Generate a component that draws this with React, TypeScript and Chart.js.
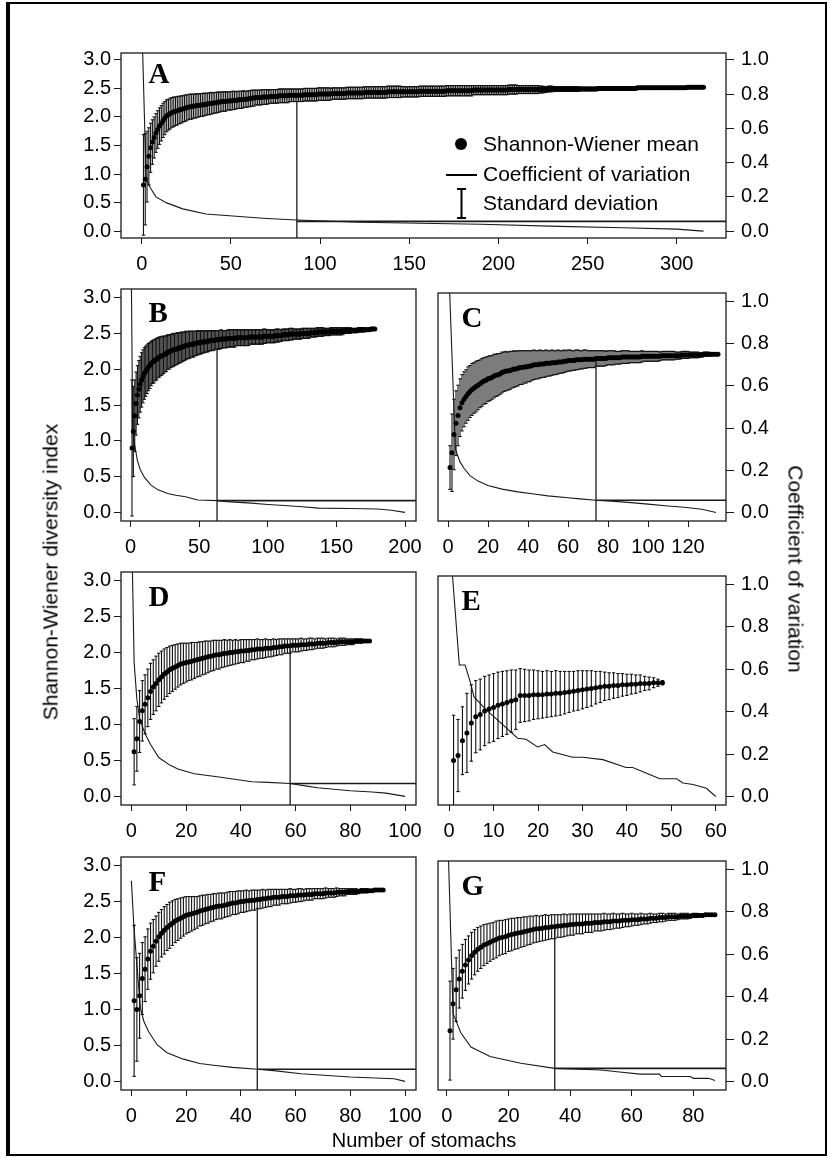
import React, { useEffect, useRef } from "react";
import { Chart, registerables } from "chart.js";
Chart.register(...registerables);

// ---------------- DATA (index i -> number of stomachs n = i + 1) ----------------
const aMean = [
  0.81,0.91,1.13,1.31,1.46,1.56,1.64,1.72,1.78,1.84,
  1.89,1.94,1.98,2.02,2.04,2.06,2.08,2.09,2.10,2.11,
  2.12,2.13,2.14,2.15,2.16,2.17,2.18,2.18,2.19,2.19,
  2.20,2.20,2.21,2.21,2.22,2.22,2.23,2.23,2.24,2.24,
  2.25,2.25,2.26,2.26,2.27,2.27,2.27,2.28,2.28,2.28,
  2.29,2.29,2.29,2.30,2.30,2.30,2.31,2.31,2.31,2.32,
  2.32,2.33,2.33,2.34,2.34,2.34,2.34,2.35,2.35,2.35,
  2.35,2.36,2.36,2.36,2.36,2.36,2.37,2.37,2.37,2.37,
  2.37,2.37,2.38,2.38,2.38,2.38,2.38,2.38,2.38,2.38,
  2.39,2.39,2.39,2.39,2.39,2.39,2.39,2.39,2.40,2.40,
  2.40,2.40,2.40,2.40,2.40,2.40,2.41,2.41,2.41,2.41,
  2.41,2.41,2.41,2.41,2.42,2.42,2.42,2.42,2.42,2.42,
  2.42,2.42,2.42,2.42,2.43,2.43,2.43,2.43,2.43,2.43,
  2.43,2.43,2.43,2.43,2.43,2.43,2.43,2.44,2.44,2.44,
  2.44,2.44,2.44,2.44,2.44,2.44,2.44,2.44,2.44,2.44,
  2.44,2.44,2.44,2.44,2.44,2.45,2.45,2.45,2.45,2.45,
  2.45,2.45,2.45,2.45,2.45,2.45,2.45,2.45,2.45,2.45,
  2.46,2.46,2.46,2.46,2.46,2.46,2.46,2.46,2.46,2.46,
  2.46,2.46,2.46,2.46,2.46,2.47,2.47,2.47,2.47,2.47,
  2.47,2.47,2.47,2.47,2.47,2.47,2.47,2.47,2.47,2.47,
  2.47,2.47,2.47,2.47,2.47,2.48,2.48,2.48,2.48,2.48,
  2.48,2.48,2.48,2.48,2.48,2.48,2.48,2.48,2.48,2.48,
  2.48,2.48,2.48,2.48,2.48,2.48,2.48,2.49,2.49,2.49,
  2.49,2.49,2.49,2.49,2.49,2.49,2.49,2.49,2.49,2.49,
  2.49,2.49,2.49,2.49,2.49,2.49,2.49,2.49,2.49,2.49,
  2.49,2.49,2.49,2.49,2.49,2.50,2.50,2.50,2.50,2.50,
  2.50,2.50,2.50,2.50,2.50,2.50,2.50,2.50,2.50,2.50,
  2.50,2.50,2.50,2.50,2.50,2.50,2.50,2.51,2.51,2.51,
  2.51,2.51,2.51,2.51,2.51,2.51,2.51,2.51,2.51,2.51,
  2.51,2.51,2.51,2.51,2.51,2.51,2.51,2.51,2.51,2.51,
  2.51,2.51,2.51,2.51,2.51,2.52,2.52,2.52,2.52,2.52,
  2.52,2.52,2.52,2.52,2.52,
];
const aSd = [
  0.88,0.80,0.62,0.50,0.43,0.39,0.36,0.34,0.33,0.32,
  0.31,0.30,0.29,0.28,0.27,0.27,0.26,0.26,0.25,0.25,
  0.24,0.24,0.23,0.23,0.23,0.22,0.22,0.22,0.21,0.21,
  0.21,0.20,0.20,0.20,0.20,0.19,0.19,0.19,0.19,0.18,
  0.18,0.18,0.18,0.17,0.17,0.17,0.17,0.16,0.16,0.16,
  0.16,0.16,0.15,0.15,0.15,0.15,0.15,0.14,0.14,0.14,
  0.14,0.14,0.14,0.13,0.13,0.13,0.13,0.13,0.13,0.13,
  0.12,0.12,0.12,0.12,0.12,0.12,0.12,0.12,0.12,0.12,
  0.12,0.12,0.11,0.11,0.11,0.11,0.11,0.11,0.11,0.11,
  0.11,0.11,0.11,0.11,0.11,0.11,0.11,0.11,0.11,0.11,
  0.11,0.11,0.11,0.11,0.11,0.10,0.10,0.10,0.10,0.10,
  0.10,0.10,0.10,0.10,0.10,0.10,0.10,0.10,0.10,0.10,
  0.10,0.10,0.10,0.10,0.10,0.10,0.10,0.10,0.10,0.10,
  0.10,0.10,0.10,0.10,0.10,0.10,0.10,0.10,0.10,0.10,
  0.10,0.10,0.10,0.10,0.10,0.09,0.09,0.09,0.09,0.09,
  0.09,0.09,0.09,0.09,0.09,0.09,0.09,0.09,0.09,0.09,
  0.09,0.09,0.09,0.09,0.09,0.09,0.09,0.09,0.09,0.09,
  0.09,0.09,0.09,0.09,0.09,0.09,0.09,0.09,0.09,0.09,
  0.09,0.09,0.09,0.09,0.09,0.08,0.08,0.08,0.08,0.08,
  0.08,0.08,0.08,0.08,0.08,0.08,0.08,0.08,0.08,0.08,
  0.08,0.08,0.08,0.08,0.08,0.08,0.08,0.08,0.08,0.08,
  0.07,0.07,0.07,0.07,0.07,0.07,0.07,0.07,0.07,0.07,
  0.07,0.07,0.06,0.06,0.06,0.05,0.05,0.05,0.05,0.05,
  0.04,0.04,0.04,0.04,0.04,0.04,0.04,0.04,0.04,0.04,
  0.04,0.04,0.04,0.04,0.04,0.03,0.03,0.03,0.03,0.03,
  0.03,0.03,0.03,0.03,0.03,0.03,0.03,0.03,0.03,0.03,
  0.03,0.03,0.03,0.03,0.03,0.02,0.02,0.02,0.02,0.02,
  0.02,0.02,0.02,0.02,0.02,0.02,0.02,0.02,0.02,0.02,
  0.02,0.02,0.02,0.02,0.02,0.02,0.02,0.02,0.02,0.02,
  0.02,0.02,0.02,0.02,0.02,0.01,0.01,0.01,0.01,0.01,
  0.01,0.01,0.01,0.01,0.01,0.01,0.01,0.01,0.01,0.01,
  0.00,0.00,0.00,0.00,0.00,
];
const aCvN = [0, 2.5, 5, 8, 14, 23, 36, 51, 70, 87, 122, 190, 234, 270, 300, 315];
const aCvV = [1.25, 0.30, 0.25, 0.20, 0.165, 0.13, 0.10, 0.088, 0.074, 0.065, 0.052, 0.04, 0.028, 0.02, 0.012, 0];

const bMean = [
  0.90,1.13,1.35,1.52,1.64,1.72,1.79,1.85,1.90,1.94,
  1.97,2.00,2.03,2.05,2.08,2.10,2.11,2.13,2.14,2.16,
  2.17,2.18,2.19,2.20,2.21,2.22,2.24,2.24,2.25,2.26,
  2.27,2.27,2.28,2.29,2.29,2.30,2.31,2.31,2.32,2.33,
  2.33,2.34,2.34,2.35,2.35,2.35,2.36,2.36,2.37,2.37,
  2.37,2.38,2.38,2.38,2.39,2.39,2.39,2.40,2.40,2.40,
  2.40,2.41,2.41,2.41,2.41,2.42,2.42,2.42,2.42,2.42,
  2.43,2.43,2.43,2.43,2.43,2.43,2.44,2.44,2.44,2.44,
  2.44,2.44,2.44,2.44,2.44,2.44,2.45,2.45,2.45,2.45,
  2.45,2.45,2.45,2.45,2.45,2.45,2.46,2.46,2.46,2.46,
  2.46,2.46,2.46,2.46,2.46,2.47,2.47,2.47,2.47,2.47,
  2.48,2.48,2.48,2.48,2.48,2.49,2.49,2.49,2.49,2.49,
  2.49,2.49,2.49,2.49,2.50,2.50,2.50,2.50,2.50,2.50,
  2.51,2.51,2.51,2.51,2.51,2.52,2.52,2.52,2.52,2.52,
  2.52,2.52,2.52,2.52,2.52,2.53,2.53,2.53,2.53,2.53,
  2.53,2.53,2.53,2.53,2.53,2.54,2.54,2.54,2.54,2.54,
  2.54,2.54,2.54,2.54,2.54,2.55,2.55,2.55,2.55,2.55,
  2.55,2.55,2.55,2.55,2.56,2.56,2.56,2.56,
];
const bSd = [
  0.95,0.63,0.50,0.44,0.41,0.40,0.39,0.38,0.37,0.36,
  0.35,0.34,0.33,0.32,0.31,0.30,0.30,0.29,0.29,0.28,
  0.28,0.27,0.27,0.26,0.25,0.25,0.24,0.24,0.23,0.23,
  0.23,0.22,0.22,0.22,0.21,0.21,0.21,0.20,0.20,0.20,
  0.19,0.19,0.19,0.18,0.18,0.18,0.17,0.17,0.17,0.16,
  0.16,0.16,0.15,0.15,0.15,0.15,0.14,0.14,0.14,0.14,
  0.13,0.13,0.13,0.13,0.13,0.13,0.12,0.12,0.12,0.12,
  0.12,0.12,0.12,0.12,0.12,0.12,0.11,0.11,0.11,0.11,
  0.11,0.11,0.11,0.11,0.11,0.11,0.10,0.10,0.10,0.10,
  0.10,0.10,0.10,0.10,0.10,0.10,0.10,0.10,0.09,0.09,
  0.09,0.09,0.09,0.09,0.09,0.09,0.09,0.09,0.08,0.08,
  0.08,0.08,0.08,0.08,0.08,0.08,0.08,0.08,0.07,0.07,
  0.07,0.07,0.07,0.07,0.07,0.07,0.07,0.07,0.07,0.07,
  0.06,0.06,0.06,0.06,0.06,0.06,0.06,0.06,0.06,0.06,
  0.05,0.05,0.05,0.05,0.05,0.05,0.05,0.05,0.05,0.05,
  0.05,0.05,0.05,0.05,0.04,0.04,0.04,0.04,0.04,0.04,
  0.03,0.03,0.03,0.03,0.03,0.03,0.03,0.03,0.03,0.03,
  0.02,0.02,0.02,0.02,0.02,0.01,0.01,0.01,
];
const bCvN = [0, 1.5, 2.5, 5, 7, 10, 15, 20, 27, 33, 40, 49, 64, 70, 88, 100, 112, 125, 137, 160, 180, 190, 200];
const bCvV = [1.5, 0.40, 0.33, 0.24, 0.20, 0.164, 0.126, 0.105, 0.088, 0.08, 0.073, 0.058, 0.055, 0.05, 0.043, 0.037, 0.032, 0.026, 0.02, 0.018, 0.016, 0.01, 0];

const cMean = [
  0.64,0.85,1.11,1.27,1.38,1.49,1.56,1.61,1.65,1.69,
  1.72,1.75,1.77,1.79,1.81,1.83,1.85,1.87,1.88,1.90,
  1.91,1.92,1.94,1.95,1.96,1.97,1.99,2.00,2.01,2.01,
  2.02,2.03,2.04,2.04,2.05,2.06,2.06,2.07,2.07,2.08,
  2.08,2.09,2.10,2.10,2.10,2.11,2.11,2.11,2.12,2.12,
  2.12,2.13,2.13,2.13,2.14,2.14,2.14,2.15,2.15,2.16,
  2.16,2.16,2.16,2.17,2.17,2.17,2.17,2.18,2.18,2.18,
  2.18,2.18,2.18,2.19,2.19,2.19,2.19,2.19,2.19,2.20,
  2.20,2.20,2.20,2.20,2.20,2.20,2.21,2.21,2.21,2.21,
  2.21,2.21,2.21,2.21,2.21,2.21,2.22,2.22,2.22,2.22,
  2.22,2.22,2.22,2.22,2.22,2.22,2.23,2.23,2.23,2.23,
  2.23,2.23,2.23,2.23,2.23,2.23,2.24,2.24,2.24,2.24,
  2.24,2.24,2.24,2.24,2.24,2.24,2.24,2.25,2.25,2.25,
  2.25,2.25,2.25,2.25,2.25,
];
const cSd = [
  0.31,0.55,0.50,0.46,0.43,0.41,0.40,0.39,0.38,0.38,
  0.37,0.37,0.36,0.36,0.35,0.34,0.34,0.33,0.33,0.32,
  0.32,0.31,0.31,0.30,0.30,0.29,0.29,0.28,0.28,0.27,
  0.27,0.26,0.26,0.25,0.25,0.24,0.24,0.23,0.23,0.22,
  0.22,0.21,0.21,0.20,0.20,0.20,0.19,0.19,0.19,0.18,
  0.18,0.18,0.17,0.17,0.17,0.16,0.16,0.16,0.15,0.15,
  0.15,0.14,0.14,0.14,0.14,0.13,0.13,0.13,0.13,0.12,
  0.12,0.12,0.12,0.11,0.11,0.11,0.11,0.11,0.10,0.10,
  0.10,0.10,0.10,0.09,0.09,0.09,0.09,0.09,0.09,0.09,
  0.08,0.08,0.08,0.08,0.08,0.08,0.08,0.07,0.07,0.07,
  0.07,0.07,0.07,0.07,0.07,0.06,0.06,0.06,0.06,0.06,
  0.06,0.06,0.06,0.05,0.05,0.05,0.05,0.05,0.05,0.05,
  0.04,0.04,0.04,0.04,0.04,0.03,0.03,0.03,0.03,0.03,
  0.02,0.02,0.01,0.01,0.00,
];
const cCvN = [0, 3.7, 6, 8, 11, 15, 20, 27, 35, 43, 50, 60, 66, 74, 85, 93, 100, 110, 118, 127, 134];
const cCvV = [1.26, 0.30, 0.24, 0.21, 0.175, 0.149, 0.128, 0.111, 0.098, 0.088, 0.079, 0.07, 0.065, 0.058, 0.052, 0.046, 0.04, 0.031, 0.025, 0.016, 0];

const dMean = [
  0.62,0.80,1.04,1.19,1.28,1.37,1.46,1.52,1.57,1.62,
  1.66,1.70,1.73,1.76,1.78,1.80,1.82,1.84,1.85,1.86,
  1.87,1.88,1.89,1.90,1.91,1.92,1.93,1.94,1.95,1.96,
  1.97,1.97,1.98,1.99,1.99,2.00,2.00,2.01,2.01,2.02,
  2.02,2.03,2.03,2.04,2.04,2.05,2.05,2.05,2.06,2.06,
  2.06,2.07,2.07,2.08,2.08,2.09,2.09,2.09,2.10,2.10,
  2.10,2.11,2.11,2.11,2.12,2.12,2.12,2.13,2.13,2.13,
  2.13,2.14,2.14,2.14,2.14,2.15,2.15,2.15,2.15,2.15,
  2.15,2.16,2.16,2.16,2.16,2.16,2.16,
];
const dSd = [
  0.46,0.45,0.43,0.42,0.41,0.40,0.39,0.38,0.38,0.37,
  0.36,0.35,0.34,0.33,0.32,0.31,0.30,0.29,0.28,0.27,
  0.26,0.26,0.25,0.24,0.24,0.23,0.23,0.22,0.21,0.21,
  0.20,0.20,0.19,0.19,0.18,0.18,0.17,0.17,0.16,0.16,
  0.16,0.15,0.15,0.14,0.14,0.14,0.13,0.13,0.13,0.12,
  0.12,0.12,0.11,0.11,0.11,0.10,0.10,0.10,0.09,0.09,
  0.09,0.09,0.08,0.08,0.08,0.08,0.07,0.07,0.07,0.07,
  0.06,0.06,0.06,0.06,0.05,0.05,0.05,0.05,0.04,0.04,
  0.04,0.03,0.03,0.03,0.02,0.02,0.01,
];
const dCvN = [0, 1, 2, 3, 5, 7, 10, 14, 17, 23, 32, 44, 50, 58, 63, 68, 80, 88, 93, 100];
const dCvV = [1.3, 0.62, 0.45, 0.36, 0.29, 0.24, 0.18, 0.145, 0.127, 0.105, 0.09, 0.068, 0.065, 0.06, 0.05, 0.04, 0.026, 0.02, 0.015, 0];

const eMean = [
  0.51,0.58,0.79,0.90,1.04,1.13,1.16,1.21,1.24,1.26,
  1.29,1.31,1.33,1.35,1.37,1.43,1.43,1.43,1.44,1.44,
  1.44,1.45,1.45,1.46,1.46,1.47,1.48,1.49,1.50,1.51,
  1.52,1.53,1.54,1.55,1.56,1.56,1.57,1.57,1.58,1.58,
  1.59,1.59,1.60,1.60,1.60,1.61,1.61,1.61,
];
const eSd = [
  0.64,0.51,0.48,0.56,0.54,0.51,0.50,0.49,0.48,0.48,
  0.47,0.46,0.45,0.44,0.42,0.38,0.37,0.36,0.35,0.34,
  0.33,0.33,0.32,0.32,0.31,0.30,0.29,0.28,0.28,0.27,
  0.26,0.25,0.23,0.22,0.20,0.19,0.18,0.17,0.16,0.15,
  0.14,0.13,0.12,0.10,0.09,0.07,0.05,0.03,
];
const eCvN = [0, 2.3, 3.6, 4.9, 5.6, 8.3, 12, 15.4, 17.3, 19.9, 21.5, 23.3, 27.8, 30, 34.6, 39.8, 41.3, 45.1, 47.4, 51.2, 52.6, 54.9, 57.9, 60];
const eCvV = [1.25, 0.62, 0.62, 0.53, 0.47, 0.41, 0.34, 0.275, 0.27, 0.234, 0.245, 0.21, 0.185, 0.185, 0.174, 0.137, 0.137, 0.104, 0.084, 0.084, 0.064, 0.057, 0.039, 0];

const fMean = [
  1.12,1.00,1.19,1.43,1.56,1.70,1.81,1.88,1.95,2.01,
  2.06,2.10,2.14,2.17,2.20,2.23,2.25,2.27,2.29,2.31,
  2.32,2.33,2.34,2.35,2.37,2.38,2.39,2.40,2.41,2.42,
  2.43,2.44,2.44,2.45,2.46,2.47,2.48,2.48,2.49,2.50,
  2.50,2.51,2.51,2.52,2.52,2.53,2.53,2.54,2.54,2.55,
  2.55,2.56,2.56,2.56,2.57,2.57,2.57,2.58,2.58,2.58,
  2.59,2.59,2.59,2.60,2.60,2.60,2.61,2.61,2.61,2.61,
  2.62,2.62,2.62,2.62,2.63,2.63,2.63,2.63,2.64,2.64,
  2.64,2.64,2.64,2.65,2.65,2.65,2.65,2.65,2.66,2.66,
  2.66,2.66,
];
const fSd = [
  1.05,0.72,0.59,0.50,0.45,0.42,0.39,0.37,0.35,0.34,
  0.33,0.33,0.32,0.32,0.31,0.30,0.29,0.28,0.27,0.26,
  0.25,0.24,0.23,0.22,0.21,0.21,0.20,0.20,0.19,0.19,
  0.18,0.18,0.18,0.17,0.17,0.17,0.16,0.16,0.16,0.15,
  0.15,0.15,0.14,0.14,0.14,0.13,0.13,0.13,0.12,0.12,
  0.12,0.11,0.11,0.11,0.10,0.10,0.10,0.10,0.09,0.09,
  0.09,0.09,0.08,0.08,0.08,0.08,0.07,0.07,0.07,0.07,
  0.07,0.06,0.06,0.06,0.06,0.05,0.05,0.05,0.04,0.04,
  0.04,0.04,0.03,0.03,0.03,0.03,0.02,0.02,0.02,0.01,
  0.01,0.00,
];
const fCvN = [0, 0.9, 2.7, 3.3, 4.5, 6.3, 9.4, 13, 19, 25, 30, 37, 46, 52, 62, 80, 96, 100];
const fCvV = [0.93, 0.72, 0.43, 0.34, 0.28, 0.23, 0.17, 0.133, 0.103, 0.083, 0.075, 0.065, 0.056, 0.05, 0.035, 0.02, 0.012, 0];

const gMean = [
  0.72,1.10,1.30,1.45,1.56,1.65,1.72,1.78,1.83,1.87,
  1.90,1.93,1.95,1.97,1.99,2.01,2.03,2.04,2.05,2.07,
  2.08,2.09,2.10,2.11,2.12,2.13,2.14,2.15,2.16,2.16,
  2.17,2.18,2.18,2.19,2.19,2.20,2.20,2.21,2.21,2.22,
  2.22,2.23,2.23,2.23,2.24,2.24,2.24,2.25,2.25,2.25,
  2.26,2.26,2.26,2.27,2.27,2.27,2.28,2.28,2.28,2.29,
  2.29,2.29,2.30,2.30,2.30,2.31,2.31,2.31,2.32,2.32,
  2.32,2.33,2.33,2.33,2.33,2.34,2.34,2.34,2.34,2.35,
  2.35,2.35,2.35,2.36,2.36,2.36,2.36,
];
const gSd = [
  0.70,0.50,0.45,0.41,0.38,0.36,0.34,0.33,0.32,0.31,
  0.30,0.29,0.28,0.27,0.26,0.26,0.25,0.24,0.24,0.23,
  0.23,0.22,0.22,0.21,0.21,0.20,0.20,0.19,0.19,0.18,
  0.18,0.18,0.17,0.17,0.17,0.16,0.16,0.16,0.15,0.15,
  0.15,0.14,0.14,0.14,0.13,0.13,0.13,0.12,0.12,0.12,
  0.12,0.11,0.11,0.11,0.10,0.10,0.10,0.09,0.09,0.09,
  0.08,0.08,0.08,0.07,0.07,0.07,0.06,0.06,0.06,0.06,
  0.05,0.05,0.05,0.05,0.04,0.04,0.04,0.04,0.03,0.03,
  0.03,0.02,0.02,0.02,0.01,0.01,0.00,
];
const gCvN = [0, 2, 4.5, 7.8, 14, 24, 35, 50, 56, 62.7, 69, 69.6, 79, 80, 85, 87];
const gCvV = [1.3, 0.32, 0.23, 0.163, 0.118, 0.086, 0.062, 0.054, 0.045, 0.035, 0.035, 0.024, 0.024, 0.015, 0.015, 0.005];

// tick labels
const xTicksA = [0, 50, 100, 150, 200, 250, 300];
const xTicksB = [0, 50, 100, 150, 200];
const xTicksC = [0, 20, 40, 60, 80, 100, 120];
const xTicksD = [0, 20, 40, 60, 80, 100];
const xTicksE = [0, 10, 20, 30, 40, 50, 60];
const xTicksF = [0, 20, 40, 60, 80, 100];
const xTicksG = [0, 20, 40, 60, 80];
const leftTicks = [0, 0.5, 1, 1.5, 2, 2.5, 3];
const rightTicks = [0, 0.2, 0.4, 0.6, 0.8, 1];

// stopping point (n), CV at that point, and top of the vertical marker
const thrN = { A: 87, B: 63, C: 74, D: 58, F: 46, G: 35 };
const thrCv = { A: 0.057, B: 0.055, C: 0.058, D: 0.06, F: 0.056, G: 0.062 };
const thrTop = { A: 2.27, B: 2.27, C: 2.15, D: 2.05, F: 2.42, G: 2.2 };

// ---------------- LAYOUT ----------------
type Box = { l: number; r: number; t: number; b: number };
type Spec = {
  letter: string;
  mean: number[];
  sd: number[];
  cvN: number[];
  cvV: number[];
  thr?: number;
  thrCv?: number;
  thrTop?: number;
  xMin: number;
  xMax: number;
  xTicks: number[];
  box: Box;
  showLeft: boolean;
  showRight: boolean;
  legend?: boolean;
  letterDx: number;
  letterDy: number;
};

const SANS = '"Liberation Sans", Arial, Helvetica, sans-serif';
const SERIF = '"Liberation Serif", "Times New Roman", Times, serif';
const PAD_L = 60, PAD_R = 70, PAD_T = 10, PAD_B = 40;
const Y_MIN = -0.12, Y_MAX = 3.12, Y1_MIN = -0.04, Y1_MAX = 1.04;

const LC = { l: 121, r: 416 };
const RC = { l: 438, r: 726 };
const R2 = { t: 284, b: 521 };
const R3 = { t: 567, b: 805 };
const R4 = { t: 852, b: 1090 };

const specs: Spec[] = [
  { letter: "A", mean: aMean, sd: aSd, cvN: aCvN, cvV: aCvV, thr: thrN.A, thrCv: thrCv.A, thrTop: thrTop.A,
    xMin: -11.6, xMax: 327.6, xTicks: xTicksA, box: { l: 121, r: 726, t: 44, b: 238 },
    showLeft: true, showRight: true, legend: true, letterDx: 27.5, letterDy: 29.5 },
  { letter: "B", mean: bMean, sd: bSd, cvN: bCvN, cvV: bCvV, thr: thrN.B, thrCv: thrCv.B, thrTop: thrTop.B,
    xMin: -7, xMax: 208, xTicks: xTicksB, box: { ...LC, ...R2 }, showLeft: true, showRight: false, letterDx: 27.5, letterDy: 33 },
  { letter: "C", mean: cMean, sd: cSd, cvN: cCvN, cvV: cCvV, thr: thrN.C, thrCv: thrCv.C, thrTop: thrTop.C,
    xMin: -5, xMax: 139, xTicks: xTicksC, box: { ...RC, ...R2 }, showLeft: false, showRight: true, letterDx: 23.5, letterDy: 34 },
  { letter: "D", mean: dMean, sd: dSd, cvN: dCvN, cvV: dCvV, thr: thrN.D, thrCv: thrCv.D, thrTop: thrTop.D,
    xMin: -3.8, xMax: 104, xTicks: xTicksD, box: { ...LC, ...R3 }, showLeft: true, showRight: false, letterDx: 27.5, letterDy: 34 },
  { letter: "E", mean: eMean, sd: eSd, cvN: eCvN, cvV: eCvV,
    xMin: -2.5, xMax: 62.3, xTicks: xTicksE, box: { ...RC, ...R3 }, showLeft: false, showRight: true, letterDx: 23.5, letterDy: 34 },
  { letter: "F", mean: fMean, sd: fSd, cvN: fCvN, cvV: fCvV, thr: thrN.F, thrCv: thrCv.F, thrTop: thrTop.F,
    xMin: -3.8, xMax: 104, xTicks: xTicksF, box: { ...LC, ...R4 }, showLeft: true, showRight: false, letterDx: 27.5, letterDy: 34 },
  { letter: "G", mean: gMean, sd: gSd, cvN: gCvN, cvV: gCvV, thr: thrN.G, thrCv: thrCv.G, thrTop: thrTop.G,
    xMin: -2.9, xMax: 90.6, xTicks: xTicksG, box: { ...RC, ...R4 }, showLeft: false, showRight: true, letterDx: 23.5, letterDy: 34 },
];

const INK = "#1a1a1a";
const BAR = "#111111";

function PanelChart({ spec }: { spec: Spec }) {
  const ref = useRef<HTMLCanvasElement | null>(null);
  const w = spec.box.r - spec.box.l + PAD_L + PAD_R;
  const h = spec.box.b - spec.box.t + PAD_T + PAD_B;

  useEffect(() => {
    const canvas = ref.current;
    if (!canvas) return;
    const n = Math.min(spec.mean.length, spec.sd.length);
    const meanPts: any[] = [];
    const barPts: any[] = [];
    for (let i = 0; i < n; i++) {
      const x = i + 1;
      meanPts.push({ x, y: spec.mean[i] });
      barPts.push({ x, y: spec.mean[i] - spec.sd[i] });
      barPts.push({ x, y: spec.mean[i] + spec.sd[i] });
      barPts.push({ x, y: null });
    }
    const cvPts = spec.cvN.map((x, i) => ({ x, y: spec.cvV[i] }));

    const datasets: any[] = [
      { label: "Shannon-Wiener mean", data: meanPts, showLine: false, pointRadius: 2.5, pointHoverRadius: 2.5,
        pointBackgroundColor: "#000", pointBorderWidth: 0, yAxisID: "y", order: 0 },
      { label: "Standard deviation", data: barPts, borderColor: BAR, borderWidth: 1.1, pointStyle: "line",
        pointRadius: 1.7, pointHoverRadius: 1.7, pointBorderColor: BAR, pointBorderWidth: 1.1, spanGaps: false,
        yAxisID: "y", order: 1 },
      { label: "Coefficient of variation", data: cvPts, borderColor: INK, borderWidth: 1.1, pointRadius: 0,
        pointHoverRadius: 0, yAxisID: "y1", order: 2, tension: 0 },
    ];
    if (spec.thr != null) {
      datasets.push({ label: "stop-v", data: [{ x: spec.thr, y: Y_MIN }, { x: spec.thr, y: spec.thrTop }],
        borderColor: INK, borderWidth: 1.3, pointRadius: 0, yAxisID: "y", order: 3 });
      datasets.push({ label: "stop-h", data: [{ x: spec.thr, y: spec.thrCv }, { x: spec.xMax, y: spec.thrCv }],
        borderColor: INK, borderWidth: 1.6, pointRadius: 0, yAxisID: "y1", order: 3 });
    }

    const tickFont = { family: SANS, size: 20 };
    const framePlugin = {
      id: "panelFrame",
      afterDraw(chart: any) {
        const { ctx, chartArea } = chart;
        const { left, right, top, bottom } = chartArea;
        ctx.save();
        ctx.strokeStyle = INK;
        ctx.lineWidth = 1.3;
        ctx.strokeRect(left, top, right - left, bottom - top);
        ctx.fillStyle = "#000";
        ctx.font = `bold 29px ${SERIF}`;
        ctx.textBaseline = "alphabetic";
        ctx.textAlign = "left";
        ctx.fillText(spec.letter, left + spec.letterDx, top + spec.letterDy);
        if (spec.legend) {
          const lx = left + 340;
          ctx.font = `21px ${SANS}`;
          ctx.textBaseline = "middle";
          ctx.strokeStyle = "#000";
          // mean
          ctx.beginPath();
          ctx.arc(lx, top + 91, 6, 0, Math.PI * 2);
          ctx.fill();
          ctx.fillText("Shannon-Wiener mean", lx + 22, top + 92);
          // cv
          ctx.lineWidth = 2;
          ctx.beginPath();
          ctx.moveTo(lx - 15, top + 122);
          ctx.lineTo(lx + 16, top + 122);
          ctx.stroke();
          ctx.fillText("Coefficient of variation", lx + 22, top + 122);
          // sd
          ctx.beginPath();
          ctx.moveTo(lx + 0.5, top + 136);
          ctx.lineTo(lx + 0.5, top + 165);
          ctx.moveTo(lx - 4, top + 136);
          ctx.lineTo(lx + 5, top + 136);
          ctx.moveTo(lx - 4, top + 165);
          ctx.lineTo(lx + 5, top + 165);
          ctx.stroke();
          ctx.fillText("Standard deviation", lx + 22, top + 151);
        }
        ctx.restore();
      },
    };

    const chart = new Chart(canvas, {
      type: "line",
      data: { datasets },
      plugins: [framePlugin],
      options: {
        responsive: false,
        animation: false,
        devicePixelRatio: 1,
        events: [],
        layout: { padding: { top: PAD_T, left: 0, right: 0, bottom: 0 } },
        plugins: { legend: { display: false }, tooltip: { enabled: false }, title: { display: false } },
        scales: {
          x: {
            type: "linear", position: "bottom", min: spec.xMin, max: spec.xMax,
            afterBuildTicks: (s: any) => { s.ticks = spec.xTicks.map((v) => ({ value: v })); },
            afterFit: (s: any) => { s.height = PAD_B; },
            ticks: { autoSkip: false, maxRotation: 0, minRotation: 0, padding: 8, color: "#000", font: tickFont,
              callback: (v: any) => String(v) },
            grid: { display: true, drawOnChartArea: false, drawTicks: true, tickLength: 6, color: INK, lineWidth: 1 },
            border: { display: false },
          },
          y: {
            type: "linear", position: "left", min: Y_MIN, max: Y_MAX,
            afterBuildTicks: (s: any) => { s.ticks = leftTicks.map((v) => ({ value: v })); },
            afterFit: (s: any) => { s.width = PAD_L; },
            ticks: { display: spec.showLeft, padding: 3, color: "#000", font: tickFont,
              callback: (v: any) => Number(v).toFixed(1) },
            grid: { display: spec.showLeft, drawOnChartArea: false, drawTicks: true, tickLength: 7, color: INK, lineWidth: 1 },
            border: { display: false },
          },
          y1: {
            type: "linear", position: "right", min: Y1_MIN, max: Y1_MAX,
            afterBuildTicks: (s: any) => { s.ticks = rightTicks.map((v) => ({ value: v })); },
            afterFit: (s: any) => { s.width = PAD_R; },
            ticks: { display: spec.showRight, padding: 7, color: "#000", font: tickFont,
              callback: (v: any) => Number(v).toFixed(1) },
            grid: { display: spec.showRight, drawOnChartArea: false, drawTicks: true, tickLength: 8, color: INK, lineWidth: 1 },
            border: { display: false },
          },
        },
      } as any,
    });
    return () => chart.destroy();
  }, [spec]);

  return (
    <canvas
      ref={ref}
      width={w}
      height={h}
      style={{ position: "absolute", left: spec.box.l - PAD_L, top: spec.box.t - PAD_T, width: w, height: h }}
    />
  );
}

export default function App() {
  return (
    <div style={{ position: "absolute", left: 0, top: 0, width: 828, height: 1158, background: "#fff", overflow: "hidden" }}>
      <div style={{ position: "absolute", left: 6, top: 2, width: 821, height: 1154, boxSizing: "border-box",
        borderStyle: "solid", borderColor: "#000", borderWidth: "2px 2px 2px 4px" }} />
      {specs.map((s) => <PanelChart key={s.letter} spec={s} />)}
      <div style={{ position: "absolute", left: 50, top: 572, transform: "translate(-50%, -50%) rotate(-90deg)",
        whiteSpace: "nowrap", fontFamily: SANS, fontSize: 21, color: "#000", lineHeight: 1 }}>
        Shannon-Wiener diversity index
      </div>
      <div style={{ position: "absolute", left: 796, top: 569, transform: "translate(-50%, -50%) rotate(90deg)",
        whiteSpace: "nowrap", fontFamily: SANS, fontSize: 21, color: "#000", lineHeight: 1 }}>
        Coefficient of variation
      </div>
      <div style={{ position: "absolute", left: 424, top: 1140, transform: "translate(-50%, -50%)",
        whiteSpace: "nowrap", fontFamily: SANS, fontSize: 20, color: "#000", lineHeight: 1 }}>
        Number of stomachs
      </div>
    </div>
  );
}
